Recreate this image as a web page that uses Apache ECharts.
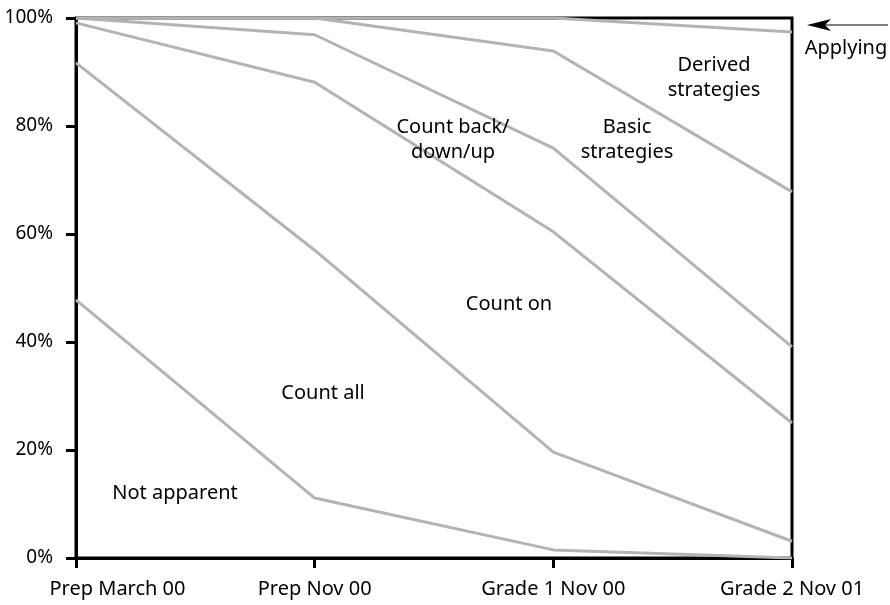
<!DOCTYPE html>
<html>
<head>
<meta charset="utf-8">
<script src="https://cdn.jsdelivr.net/npm/echarts@6/dist/echarts.min.js"></script>
<style>html,body{margin:0;padding:0;background:#fff}#c{width:890px;height:605px}</style>
</head>
<body>
<div id="c"></div>
<script>
// Categories (x axis)
var categories = ['Prep March 00', 'Prep Nov 00', 'Grade 1 Nov 00', 'Grade 2 Nov 01'];
// Cumulative percentage boundaries (upper edge of each band)
var notApparent = [47.8, 11.1, 1.5, 0];
var countAll    = [91.7, 57.0, 19.6, 3.1];
var countOn     = [99.1, 88.1, 60.4, 25.0];
var countBack   = [100, 96.9, 75.9, 39.1];
var basicStrat  = [100, 100, 93.9, 67.8];
var derivedStrat= [100, 100, 100, 97.4];
// Y tick labels
var yTicks = [0, 20, 40, 60, 80, 100];

var FONT = '"Noto Sans", "DejaVu Sans", sans-serif';
var lineColor = '#b3b3b3';

function mk(name, data) {
  return {
    name: name, type: 'line', data: data, symbol: 'none',
    lineStyle: { color: lineColor, width: 3 }, silent: true, z: 2
  };
}

var chart = echarts.init(document.getElementById('c'), null, { renderer: 'canvas' });

function txt(x, y, t) {
  return { type: 'text', x: x, y: y, silent: true, z: 10,
    style: { text: t, fill: '#000', font: '20px ' + FONT, align: 'center', verticalAlign: 'middle', lineHeight: 25 } };
}

chart.setOption({
  animation: false,
  backgroundColor: '#fff',
  grid: { left: 76, right: 98, top: 18, bottom: 47, show: true, borderColor: '#000', borderWidth: 3, backgroundColor: 'transparent' },
  xAxis: {
    type: 'category', data: categories, boundaryGap: false,
    axisLine: { show: true, lineStyle: { color: '#000', width: 3 } },
    axisTick: { show: true, alignWithLabel: true, length: 10, lineStyle: { color: '#000', width: 3 } },
    axisLabel: {
      color: '#000', fontFamily: FONT, fontSize: 20, margin: 21, interval: 0,
      formatter: function (v, i) { return i === 0 ? '{f|' + v + '}' : v; },
      rich: { f: { padding: [0, 0, 0, 83], fontFamily: FONT, fontSize: 20, color: '#000' } }
    },
    splitLine: { show: false }
  },
  yAxis: {
    type: 'value', min: yTicks[0], max: yTicks[yTicks.length - 1], interval: 20,
    axisLine: { show: true, lineStyle: { color: '#000', width: 3 } },
    axisTick: { show: true, length: 10, lineStyle: { color: '#000', width: 3 } },
    axisLabel: { color: '#000', fontFamily: FONT, fontSize: 19, margin: 23, formatter: '{value}%' },
    splitLine: { show: false }
  },
  series: [
    mk('Not apparent', notApparent),
    mk('Count all', countAll),
    mk('Count on', countOn),
    mk('Count back/down/up', countBack),
    mk('Basic strategies', basicStrat),
    mk('Derived strategies', derivedStrat)
  ],
  graphic: [
    txt(714, 78, 'Derived\nstrategies'),
    txt(627, 140, 'Basic\nstrategies'),
    txt(453, 140, 'Count back/\ndown/up'),
    txt(509, 304, 'Count on'),
    txt(323, 393, 'Count all'),
    txt(175, 493, 'Not apparent'),
    txt(846, 48, 'Applying'),
    { type: 'line', silent: true, z: 10, shape: { x1: 820, y1: 25, x2: 888, y2: 25 }, style: { stroke: '#000', lineWidth: 1.2 } },
    { type: 'polygon', silent: true, z: 10, shape: { points: [[807, 25], [831, 19], [825, 25], [831, 31]] }, style: { fill: '#000' } }
  ]
});
</script>
</body>
</html>
